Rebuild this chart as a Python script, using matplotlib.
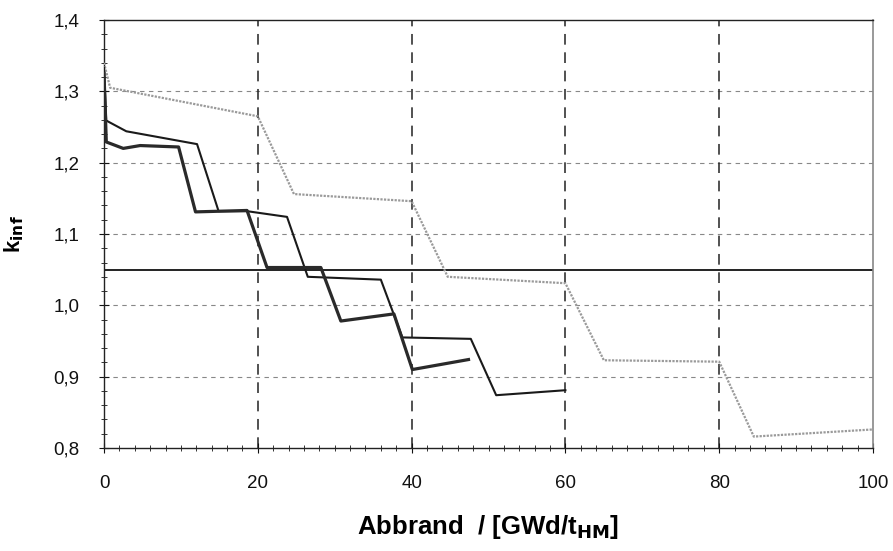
import matplotlib
matplotlib.use("Agg")
import matplotlib.pyplot as plt
from matplotlib.ticker import MultipleLocator, FuncFormatter

# Data
gray_x = [0, 0.8, 20, 24.7, 40, 44.7, 60, 65, 80, 84.5, 100]
gray_y = [1.340, 1.305, 1.265, 1.156, 1.146, 1.040, 1.031, 0.923, 0.921, 0.816, 0.826]

a_x = [0, 0.3, 2.9, 12.1, 14.9, 18.6, 23.8, 26.5, 36.0, 38.8, 47.7, 51.0, 60.0]
a_y = [1.333, 1.259, 1.244, 1.226, 1.132, 1.132, 1.124, 1.040, 1.036, 0.955, 0.953, 0.874, 0.881]

b_x = [0, 0.3, 2.5, 4.7, 9.7, 11.9, 18.6, 21.2, 28.2, 30.8, 37.7, 40.1, 47.4]
b_y = [1.325, 1.229, 1.220, 1.224, 1.222, 1.131, 1.133, 1.053, 1.053, 0.978, 0.988, 0.910, 0.924]

limit_y = 1.05

x_ticks = [0, 20, 40, 60, 80, 100]
y_ticks = [0.8, 0.9, 1.0, 1.1, 1.2, 1.3, 1.4]

plt.rcParams['font.family'] = ['Liberation Sans', 'DejaVu Sans']

fig = plt.figure(figsize=(8.93, 5.51), dpi=100)
ax = fig.add_axes([104/893, 1-448/551, (873-104)/893, (448-20)/551])

# grid
for yv in y_ticks[1:-1]:
    ax.axhline(yv, color='#888888', lw=0.8, ls=(0, (4, 4)), zorder=1)
for xv in x_ticks[1:-1]:
    ax.axvline(xv, color='#222222', lw=1.1, ls=(0, (7, 5)), zorder=1)

ax.axhline(limit_y, color='#111111', lw=1.3, zorder=2)

ax.plot(gray_x, gray_y, color='#9a9a9a', lw=1.6, ls=(0, (1, 0.6)), zorder=3)
ax.plot(a_x, a_y, color='#1a1a1a', lw=1.5, zorder=4)
ax.plot(b_x, b_y, color='#2a2a2a', lw=2.3, zorder=4)

ax.set_xlim(0, 100)
ax.set_ylim(0.8, 1.4)
ax.set_xticks(x_ticks)
ax.set_yticks(y_ticks)
ax.xaxis.set_minor_locator(MultipleLocator(2))
ax.yaxis.set_minor_locator(MultipleLocator(0.02))
ax.yaxis.set_major_formatter(FuncFormatter(lambda v, p: f"{v:.1f}".replace('.', ',')))

ax.tick_params(which='major', direction='inout', length=7, width=0.8, labelsize=13.5, colors='#111111')
ax.tick_params(which='minor', direction='inout', length=4, width=0.7, colors='#333333')
ax.tick_params(axis='x', which='major', pad=16)
ax.tick_params(axis='y', which='major', pad=14)

for s in ['left', 'top', 'bottom']:
    ax.spines[s].set_color('#222222')
    ax.spines[s].set_linewidth(1.0)
ax.spines['right'].set_color('#888888')
ax.spines['right'].set_linewidth(1.2)

ax.set_xlabel(r'Abbrand  / [GWd/t$_{\mathbf{HM}}$]', fontsize=18.5, fontweight='bold', labelpad=15)
ax.set_ylabel(r'k$_{\mathbf{inf}}$', fontsize=16, fontweight='bold', labelpad=20)

fig.savefig('out.png', dpi=100)
